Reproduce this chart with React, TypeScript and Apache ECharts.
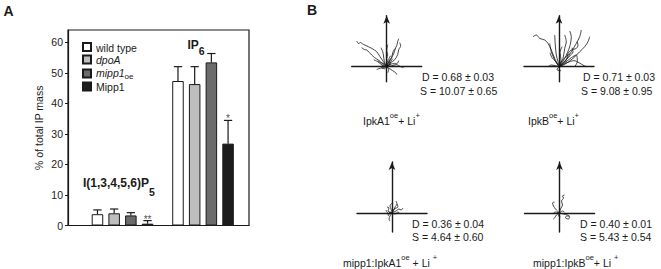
import React, { useEffect, useRef } from 'react';
import * as echarts from 'echarts';

// ---------- Panel A data ----------
const groups = ['I(1,3,4,5,6)P5', 'IP6'];
const seriesNames = ['wild type', 'dpoA', 'mipp1oe', 'Mipp1'];
const wildType = [3.7, 47.3];
const wildTypeErr = [1.4, 4.7];
const dpoA = [4.0, 46.3];
const dpoAErr = [1.4, 5.7];
const mipp1oe = [3.3, 53.4];
const mipp1oeErr = [0.9, 2.9];
const mipp1 = [0.6, 26.8];
const mipp1Err = [1.0, 7.6];
const wildTypeSig = ['', ''];
const dpoASig = ['', ''];
const mipp1oeSig = ['', ''];
const mipp1Sig = ['**', '*'];
const yTicks = [0, 10, 20, 30, 40, 50, 60];

// ---------- Panel B data (cell tracks, relative to start point) ----------
const tracksIpkA1: number[][][] = [
  [[0, 0], [-3.3, 5], [-6.7, 10], [-10, 15], [-15, 18.3], [-18.3, 20], [-23.3, 22.3], [-26.7, 24.3], [-28, 23], [-30, 25.7]],
  [[0, 0], [-4, 3], [-8.3, 6.7], [-12, 9], [-15, 11.7], [-20, 16.7], [-22, 17], [-25, 19]],
  [[0, 0], [-2.3, 5], [-3.3, 11.7], [-4, 15], [-5.7, 19]],
  [[0, 0], [2, 5], [4, 8], [6, 11], [8, 16], [9, 19], [10, 21], [11, 25], [12, 28]],
  [[0, 0], [4, 4], [8, 7], [11, 12], [12, 17], [14, 21], [13, 24]],
  [[0, 0], [2, 4], [5, 9], [6, 14], [8, 18]],
  [[0, 0], [1, 4], [0, 8], [1, 12], [0, 16], [1, 22]],
  [[0, 0], [3, 2], [4, 5], [6, 8]],
  [[0, 0], [5, 1], [10, 2], [14, 0], [17, -1]],
  [[0, 0], [3, -2], [6, -4], [9, -6], [10, -8]],
  [[0, 0], [-4, -1], [-8, -2], [-10, -3]],
  [[0, 0], [-3, 3], [-6, 4], [-9, 6]],
  [[0, 0], [2, -3], [1, -6]],
  [[0, 0], [6, 3], [10, 3], [12, 6]],
  [[0, 0], [-2, -2], [-5, -1], [-4, 2]],
  [[0, 0], [-5, 2], [-9, 5], [-13, 7]],
  [[0, 0], [3, 3], [2, 7], [4, 11]],
];

const tracksIpkB: number[][][] = [
  [[0, 0], [-4.3, 8.3], [-7.7, 16.7], [-11, 23.3], [-14.3, 26.7], [-19.3, 28.3], [-22.7, 31.7], [-26, 30]],
  [[0, 0], [-4.3, 6.7], [-7.7, 15], [-9.3, 23.3]],
  [[0, 0], [-1, 5], [-2.7, 11.7], [-3.7, 21.7], [-4.3, 31.7]],
  [[0, 0], [4, 8.3], [5.7, 18.3], [7.3, 25], [5.7, 31.7]],
  [[0, 0], [5.7, 8.3], [10.7, 20], [12.3, 30], [10.7, 35.7]],
  [[0, 0], [5.7, 5], [12.3, 15], [17.3, 23.3], [20.7, 30], [22.3, 36.7]],
  [[0, 0], [5.7, 2.3], [14, 8.3], [20.7, 15], [25.7, 20], [29, 25], [30.7, 30]],
  [[0, 0], [7.3, 6.7], [9, 13.3], [12.3, 16.7], [17.3, 18.3], [19, 21.7], [18, 25]],
  [[0, 0], [6, 4], [12.3, 9], [17.3, 11.7], [18.3, 5], [15.7, 0]],
  [[0, 0], [8, 4], [15, 6], [20, 4], [25, 1], [28, 0]],
  [[0, 0], [-4, 1], [-7.7, 1.7], [-11, 0]],
  [[0, 0], [-3, 5], [-7, 9], [-9, 14]],
  [[0, 0], [3, 6], [8, 11], [11, 13]],
  [[0, 0], [-2, -3], [2, -4]],
  [[0, 0], [2, 7], [1, 14], [3, 20]],
  [[0, 0], [10, 10], [14, 15], [13, 19]],
];

const tracksMippIpkA1: number[][][] = [
  [[0, 0], [2, 3], [3, 6], [5, 9], [4, 12]],
  [[0, 0], [-1, 4], [-2, 7], [0, 10]],
  [[0, 0], [4, 2], [7, 4], [9, 3], [11, 5]],
  [[0, 0], [3, -1], [6, 1], [8, -1]],
  [[0, 0], [-3, -1], [-5, 1], [-6, 3]],
  [[0, 0], [-2, -3], [-3, -6], [-2, -8]],
  [[0, 0], [-4, 2], [-3, 5], [-5, 6]],
  [[0, 0], [2, 4], [6, 6], [5, 9]],
  [[0, 0], [-2, 1], [-4, -2], [-3, -3]],
];

const tracksMippIpkB: number[][][] = [
  [[0, 0], [-2, 2], [-4, 4], [-6, 7], [-7, 10], [-5, 11]],
  [[0, 0], [1, 4], [3, 8], [2, 12], [4, 15], [3, 17], [5, 18]],
  [[0, 0], [4, -1], [8, -2], [10, -4], [9, -6], [6, -5], [7, -3], [10, -3]],
  [[0, 0], [-3, -2], [-5, -5], [-6, -6]],
  [[0, 0], [-4, 1], [-6, 0]],
  [[0, 0], [3, 2], [5, 1]],
  [[0, 0], [-1, -3], [1, -4]],
];

const trackStats = [
  ['D = 0.68 ± 0.03', 'S = 10.07 ± 0.65'],
  ['D = 0.71 ± 0.03', 'S = 9.08 ± 0.95'],
  ['D = 0.36 ± 0.04', 'S = 4.64 ± 0.60'],
  ['D = 0.40 ± 0.01', 'S = 5.43 ± 0.54'],
];

const FONT = 'Liberation Sans, Arial, Helvetica, sans-serif';
const INK = '#1a1a1a';

const barColors = ['#ffffff', '#bebebe', '#6b6b6b', '#1c1c1c'];
const values = [wildType, dpoA, mipp1oe, mipp1];
const errors = [wildTypeErr, dpoAErr, mipp1oeErr, mipp1Err];
const sigs = [wildTypeSig, dpoASig, mipp1oeSig, mipp1Sig];

const BAR_W = 0.143; // fraction of band
const BAR_GAP = 0.45; // fraction of bar width
const GRID_A = { left: 68, top: 30, width: 181, height: 195.5 };
const X_MIN = -0.677;
const X_MAX = 1.571;

// layout of the four track plots
const trackPlots = [
  { tracks: tracksIpkA1, cx: 386.7, cy: 66.7, down: 15, up: 51 },
  { tracks: tracksIpkB, cx: 559, cy: 66.7, down: 15, up: 51 },
  { tracks: tracksMippIpkA1, cx: 392, cy: 213, down: 19, up: 51 },
  { tracks: tracksMippIpkB, cx: 559.5, cy: 213, down: 19, up: 51 },
];
const HALF_W = 35;

function buildOption() {
  const grids: any[] = [
    { ...GRID_A, show: true, borderColor: INK, borderWidth: 1.2, backgroundColor: 'transparent' },
  ];
  const xAxes: any[] = [
    {
      gridIndex: 0, type: 'value', min: X_MIN, max: X_MAX,
      axisLine: { show: true, onZero: false, lineStyle: { color: INK, width: 1.2 } },
      axisTick: { show: false }, axisLabel: { show: false }, splitLine: { show: false },
    },
  ];
  const yAxes: any[] = [
    {
      gridIndex: 0, type: 'value', min: 0, max: 64, interval: 10,
      name: '% of total IP mass', nameLocation: 'middle', nameGap: 24,
      nameTextStyle: { fontFamily: FONT, fontSize: 10.5, color: INK },
      axisLine: { show: true, onZero: false, lineStyle: { color: INK, width: 1.2 } },
      axisTick: { show: true, inside: false, length: 3, customValues: yTicks, lineStyle: { color: INK, width: 1 } },
      axisLabel: { show: true, margin: 5, customValues: yTicks, fontFamily: FONT, fontSize: 10.5, color: INK },
      splitLine: { show: false },
    },
  ];
  const series: any[] = [];

  seriesNames.forEach((name, si) => {
    series.push({
      name, type: 'bar', xAxisIndex: 0, yAxisIndex: 0,
      barWidth: (BAR_W * 100) + '%', barGap: (BAR_GAP * 100) + '%',
      itemStyle: { color: barColors[si], borderColor: INK, borderWidth: 1 },
      data: groups.map((_, gi) => [gi, values[si][gi]]),
      z: 2,
    });
  });

  const errRows: any[] = [];
  seriesNames.forEach((_, si) => {
    groups.forEach((__, gi) => {
      errRows.push([gi, values[si][gi], errors[si][gi], si]);
    });
  });
  series.push({
    type: 'custom', xAxisIndex: 0, yAxisIndex: 0, z: 5,
    itemStyle: { color: INK },
    encode: { x: 0, y: 1 },
    data: errRows,
    renderItem: (params: any, api: any) => {
      const [gi, v, e, si] = errRows[params.dataIndex];
      const band = api.size([1, 0])[0];
      const bw = band * BAR_W;
      const step = bw * (1 + BAR_GAP);
      const off = (si - (seriesNames.length - 1) / 2) * step;
      const p0 = api.coord([gi, v]);
      const p1 = api.coord([gi, v + e]);
      const x = p0[0] + off;
      const cap = bw * 0.36;
      return {
        type: 'group',
        children: [
          { type: 'line', shape: { x1: x, y1: p0[1], x2: x, y2: p1[1] }, style: { stroke: INK, lineWidth: 1.2 } },
          { type: 'line', shape: { x1: x - cap, y1: p1[1], x2: x + cap, y2: p1[1] }, style: { stroke: INK, lineWidth: 1.2 } },
        ],
      };
    },
    silent: true,
  });

  // significance markers above the error bars
  const bandPx = GRID_A.width / (X_MAX - X_MIN);
  const stepPx = bandPx * BAR_W * (1 + BAR_GAP);
  seriesNames.forEach((_, si) => {
    const pts = groups
      .map((__, gi) => ({ value: [gi, values[si][gi] + errors[si][gi]], sig: sigs[si][gi] }))
      .filter((p) => p.sig);
    if (!pts.length) return;
    series.push({
      type: 'scatter', xAxisIndex: 0, yAxisIndex: 0, symbol: 'circle', symbolSize: 1, silent: true, z: 6,
      itemStyle: { color: 'rgba(0,0,0,0)' },
      data: pts.map((p) => ({ value: p.value, sig: p.sig })),
      label: {
        show: true, position: 'top', distance: 0,
        offset: [(si - (seriesNames.length - 1) / 2) * stepPx, 4],
        formatter: (p: any) => p.data.sig,
        fontFamily: FONT, fontSize: 10, color: INK,
      },
    });
  });

  trackPlots.forEach((tp, k) => {
    const gi = k + 1;
    grids.push({ left: tp.cx - HALF_W, top: tp.cy - tp.up, width: HALF_W * 2, height: tp.up + tp.down });
    xAxes.push({
      gridIndex: gi, type: 'value', min: -HALF_W, max: HALF_W,
      axisLine: { show: true, onZero: true, lineStyle: { color: INK, width: 1.4 } },
      axisTick: { show: false }, axisLabel: { show: false }, splitLine: { show: false },
    });
    yAxes.push({
      gridIndex: gi, type: 'value', min: -tp.down, max: tp.up,
      axisLine: { show: true, onZero: true, symbol: ['none', 'arrow'], symbolSize: [5, 8], lineStyle: { color: INK, width: 1.4 } },
      axisTick: { show: false }, axisLabel: { show: false }, splitLine: { show: false },
    });
    tp.tracks.forEach((tr) => {
      series.push({
        type: 'line', xAxisIndex: gi, yAxisIndex: gi, data: tr, showSymbol: false, symbol: 'none',
        smooth: 0.3, lineStyle: { color: '#151515', width: 0.8 }, silent: true, z: 3,
      });
    });
  });

  const statsX = [422, 583, 412, 580];
  const statsY = [[77, 90.5], [77, 90.5], [223.5, 236.5], [223.5, 236.5]];
  const graphic: any[] = [
    { type: 'text', x: 8.5, y: 11, style: { text: 'A', fontFamily: FONT, fontSize: 14, fontWeight: 'bold', fill: INK, align: 'center', verticalAlign: 'middle' } },
    { type: 'text', x: 312, y: 10, style: { text: 'B', fontFamily: FONT, fontSize: 14, fontWeight: 'bold', fill: INK, align: 'center', verticalAlign: 'middle' } },
    {
      type: 'text', x: 83, y: 177,
      style: {
        text: '{m|I(1,3,4,5,6)P}{s|5}', fontFamily: FONT, fill: INK, verticalAlign: 'top',
        rich: {
          m: { fontFamily: FONT, fontSize: 12, fontWeight: 'bold', lineHeight: 14, verticalAlign: 'top', fill: INK },
          s: { fontFamily: FONT, fontSize: 10.5, fontWeight: 'bold', lineHeight: 20, verticalAlign: 'bottom', fill: INK },
        },
      },
    },
    {
      type: 'text', x: 187.5, y: 39,
      style: {
        text: '{m|IP}{s|6}', fontFamily: FONT, fill: INK, verticalAlign: 'top',
        rich: {
          m: { fontFamily: FONT, fontSize: 12, fontWeight: 'bold', lineHeight: 14, verticalAlign: 'top', fill: INK },
          s: { fontFamily: FONT, fontSize: 10.5, fontWeight: 'bold', lineHeight: 17, verticalAlign: 'bottom', fill: INK },
        },
      },
    },
  ];
  trackStats.forEach((st, k) => {
    st.forEach((line, j) => {
      graphic.push({
        type: 'text', x: statsX[k] - (j === 1 && k < 2 ? 2 : 0), y: statsY[k][j],
        style: { text: line, fontFamily: FONT, fontSize: 10.5, fill: INK, align: 'left', verticalAlign: 'middle' },
      });
    });
  });
  const supRich = {
    n: { fontFamily: FONT, fontSize: 10.5, lineHeight: 15, verticalAlign: 'bottom', fill: INK },
    p: { fontFamily: FONT, fontSize: 7.5, lineHeight: 9, verticalAlign: 'top', fill: INK },
  };
  const plotLabels = [
    { text: '{n|IpkA1}{p|oe}{n|+ Li}{p|+}', x: 363, y: 120 },
    { text: '{n|IpkB}{p|oe}{n|+ Li}{p|+}', x: 528, y: 120 },
    { text: '{n|mipp1:IpkA1}{p|oe}{n| + Li }{p|+}', x: 343, y: 262 },
    { text: '{n|mipp1:IpkB}{p|oe}{n|+ Li }{p|+}', x: 533, y: 262 },
  ];
  plotLabels.forEach((pl) => {
    graphic.push({
      type: 'text', x: pl.x, y: pl.y - 9,
      style: { text: pl.text, fontFamily: FONT, fill: INK, verticalAlign: 'top', rich: supRich },
    });
  });

  return {
    animation: false,
    backgroundColor: '#ffffff',
    textStyle: { fontFamily: FONT },
    grid: grids,
    xAxis: xAxes,
    yAxis: yAxes,
    legend: {
      data: seriesNames, orient: 'vertical', left: 77, top: 37,
      itemWidth: 8, itemHeight: 8, itemGap: 1.5, icon: 'rect', selectedMode: false,
      formatter: (name: string) => {
        if (name === 'dpoA') return '{i|dpoA}';
        if (name === 'mipp1oe') return '{i|mipp1}{s|oe}';
        return '{r|' + name + '}';
      },
      textStyle: {
        fontFamily: FONT, fontSize: 10.5, color: INK, lineHeight: 10,
        rich: {
          r: { fontFamily: FONT, fontSize: 10.5, lineHeight: 10, verticalAlign: 'top', color: INK },
          i: { fontFamily: FONT, fontSize: 10.5, fontStyle: 'italic', lineHeight: 10, verticalAlign: 'top', color: INK },
          s: { fontFamily: FONT, fontSize: 8, lineHeight: 13, verticalAlign: 'bottom', color: INK },
        },
      },
    },
    graphic,
    series,
  };
}

export default function App() {
  const ref = useRef<HTMLDivElement>(null);
  useEffect(() => {
    if (!ref.current) return;
    const chart = echarts.init(ref.current, undefined, { renderer: 'svg' });
    chart.setOption(buildOption() as any);
    return () => chart.dispose();
  }, []);
  return (
    <div
      ref={ref}
      style={{ position: 'fixed', left: 0, top: 0, width: 661, height: 269, background: '#fff' }}
    />
  );
}
